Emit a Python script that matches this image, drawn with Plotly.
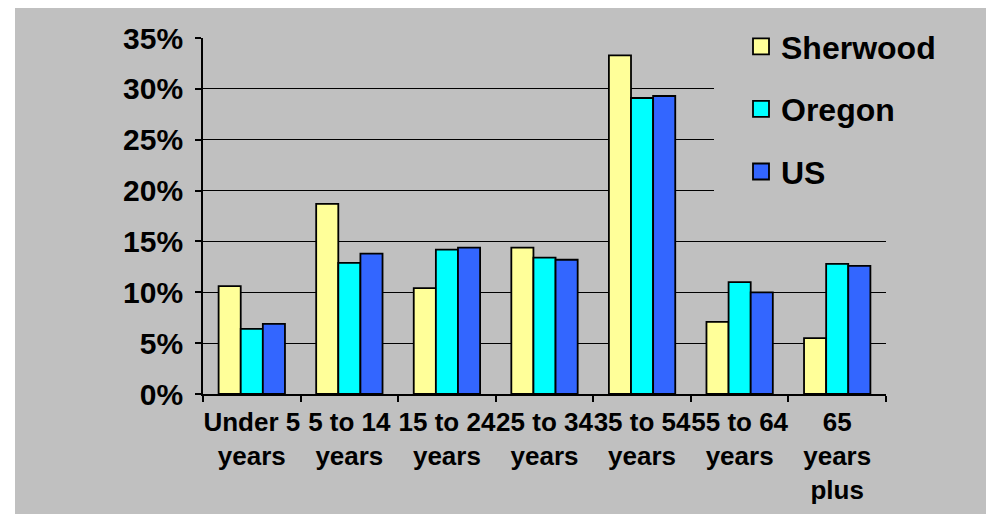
import plotly.graph_objects as go

# Age distribution by area (share of population, %)
categories = ["Under 5<br>years", "5 to 14<br>years", "15 to 24<br>years", "25 to 34<br>years",
              "35 to 54<br>years", "55 to 64<br>years", "65<br>years<br>plus"]
sherwood = [10.6, 18.7, 10.4, 14.4, 33.3, 7.1, 5.5]
oregon = [6.4, 12.9, 14.2, 13.4, 29.1, 11.0, 12.8]
us = [6.9, 13.8, 14.4, 13.2, 29.3, 10.0, 12.6]

series_names = ["Sherwood", "Oregon", "US"]
series_values = [sherwood, oregon, us]
series_colors = ["#FFFF99", "#00FFFF", "#3366FF"]

y_ticks = [0, 5, 10, 15, 20, 25, 30, 35]
y_tick_labels = [f"{v}%" for v in y_ticks]

FONT = "Liberation Sans, Arial, sans-serif"
GRAY = "#C0C0C0"

fig = go.Figure()

for name, vals, color in zip(series_names, series_values, series_colors):
    fig.add_trace(go.Bar(
        x=categories, y=vals, name=name, showlegend=False,
        marker=dict(color=color, line=dict(color="black", width=1.8)),
        hoverinfo="skip",
    ))

# legend entries with larger square swatches
for name, color in zip(series_names, series_colors):
    fig.add_trace(go.Scatter(
        x=[None], y=[None], mode="markers", name=name, legendgroup=name,
        marker=dict(symbol="square", size=16, color=color,
                    line=dict(color="black", width=1.8)),
    ))

W, H = 990, 514
ml, mr, mt, mb = 203, 104, 38, 120
pw = W - ml - mr
ph = H - mt - mb

def px_x(p):
    return (p - ml) / pw

def px_y(p):
    return (H - mb - p) / ph

# gray chart panel
fig.add_shape(type="rect", xref="paper", yref="paper",
              x0=px_x(15), x1=px_x(986), y0=px_y(514), y1=px_y(8),
              fillcolor=GRAY, line=dict(width=0), layer="below")

fig.update_layout(
    width=W, height=H,
    margin=dict(l=ml, r=mr, t=mt, b=mb, pad=0),
    paper_bgcolor="white",
    plot_bgcolor=GRAY,
    barmode="group",
    bargap=0.32,
    bargroupgap=0,
    font=dict(family=FONT, color="black"),
    legend=dict(
        x=px_x(714), y=px_y(19), xanchor="left", yanchor="top",
        bgcolor=GRAY, borderwidth=0,
        font=dict(family=FONT, size=32, weight="bold", color="black"),
        tracegroupgap=18, indentation=27,
        itemsizing="trace",
    ),
    xaxis=dict(
        type="category",
        tickson="boundaries", ticks="outside", ticklen=6, tickwidth=1.5, tickcolor="black",
        showline=True, linecolor="black", linewidth=1.8,
        showgrid=False,
        tickangle=0, automargin=False,
        ticklabelstandoff=4,
        tickfont=dict(family=FONT, size=26, weight="bold", color="black"),
        fixedrange=True,
    ),
    yaxis=dict(
        range=[0, 35],
        tickvals=y_ticks, ticktext=y_tick_labels,
        ticks="outside", ticklen=6, tickwidth=1.5, tickcolor="black",
        showline=True, linecolor="black", linewidth=1.8,
        showgrid=True, gridcolor="black", gridwidth=1.3,
        zeroline=False, automargin=False,
        ticklabelstandoff=6,
        tickfont=dict(family=FONT, size=30, weight="bold", color="black"),
        fixedrange=True,
    ),
)

fig.write_html("out.html", config={"displayModeBar": False})
